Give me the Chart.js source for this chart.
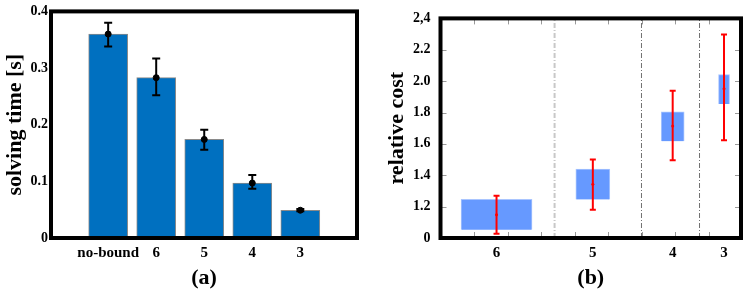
<!DOCTYPE html>
<html>
<head>
<meta charset="utf-8">
<script src="https://cdn.jsdelivr.net/npm/chart.js@4.4.0/dist/chart.umd.min.js"></script>
<style>
  html, body { margin: 0; padding: 0; background: #fff; }
  #wrap { position: relative; width: 747px; height: 292px; }
  canvas { position: absolute; top: 0; }
  #chartA { left: 0; }
  #chartB { left: 380px; }
</style>
</head>
<body>
<div id="wrap">
  <canvas id="chartA" width="380" height="292"></canvas>
  <canvas id="chartB" width="367" height="292"></canvas>
</div>
<script>
// Panel (a): solving time for each bound
const boundsA = ['no-bound', '6', '5', '4', '3'];
const timeMean = [0.360, 0.283, 0.174, 0.097, 0.049];
const timeLow = [0.338, 0.252, 0.156, 0.087, 0.047];
const timeHigh = [0.380, 0.317, 0.191, 0.111, 0.051];
const timeTicks = [0, 0.1, 0.2, 0.3, 0.4];

// Panel (b): relative cost for each bound
const boundsB = ['6', '5', '4', '3'];
const boundX = [1.67, 4.54, 6.92, 8.45];
const boxLow = [1.052, 1.246, 1.617, 1.854];
const boxHigh = [1.246, 1.440, 1.805, 2.042];
const costMean = [1.149, 1.343, 1.714, 1.951];
const costLow = [1.027, 1.180, 1.495, 1.623];
const costHigh = [1.270, 1.500, 1.939, 2.297];
const costTicks = [1.0, 1.2, 1.4, 1.6, 1.8, 2.0, 2.2, 2.4];
const costTickLabels = ['0', '1.2', '1.4', '1.6', '1.8', '2.0', '2.2', '2,4'];
const separatorX = [3.40, 5.99, 7.72];
const minorX = [1, 2, 3, 4, 5, 6, 7, 8];

Chart.defaults.font.family = "'Liberation Serif', 'Times New Roman', serif";
Chart.defaults.font.weight = 'bold';
Chart.defaults.color = '#000';

// error bar segments: low, high, then a gap
function errorSegments(xs, lo, hi) {
  const pts = [];
  xs.forEach((x, i) => {
    pts.push({ x: x, y: lo[i] }, { x: x, y: hi[i] }, { x: x, y: null });
  });
  return pts;
}

// thick black box round the plot area
const frame = {
  id: 'frame',
  afterDatasetsDraw(chart) {
    const { ctx, chartArea: a } = chart;
    ctx.save();
    ctx.strokeStyle = '#000';
    ctx.lineWidth = 4;
    ctx.strokeRect(a.left, a.top, a.right - a.left, a.bottom - a.top);
    ctx.restore();
  }
};

// small inward tick marks of panel (b)
const innerTicks = {
  id: 'innerTicks',
  afterDatasetsDraw(chart) {
    const { ctx, chartArea: a, scales } = chart;
    ctx.save();
    ctx.strokeStyle = '#999';
    ctx.lineWidth = 1;
    ctx.beginPath();
    minorX.forEach(v => {
      const px = Math.round(scales.x.getPixelForValue(v)) + 0.5;
      ctx.moveTo(px, a.top); ctx.lineTo(px, a.top + 6);
      ctx.moveTo(px, a.bottom); ctx.lineTo(px, a.bottom - 6);
    });
    costTicks.slice(1, -1).forEach(v => {
      const py = Math.round(scales.y.getPixelForValue(v)) + 0.5;
      ctx.moveTo(a.left, py); ctx.lineTo(a.left + 6, py);
      ctx.moveTo(a.right, py); ctx.lineTo(a.right - 6, py);
    });
    ctx.stroke();
    ctx.restore();
  }
};

const idxA = boundsA.map((_, i) => i);

new Chart(document.getElementById('chartA'), {
  type: 'bar',
  data: {
    datasets: [
      {
        type: 'line',
        data: errorSegments(idxA, timeLow, timeHigh),
        borderColor: '#000',
        borderWidth: 2,
        pointStyle: 'line',
        pointRadius: 4,
        pointBorderWidth: 2,
        pointBorderColor: '#000',
        spanGaps: false,
        order: 1
      },
      {
        type: 'line',
        data: idxA.map(i => ({ x: i, y: timeMean[i] })),
        showLine: false,
        pointStyle: 'circle',
        pointRadius: 3,
        pointBackgroundColor: '#000',
        pointBorderColor: '#000',
        order: 0
      },
      {
        data: idxA.map(i => ({ x: i, y: timeMean[i] })),
        backgroundColor: '#0070c0',
        borderColor: '#8a8a8a',
        borderWidth: 1,
        barThickness: 39,
        order: 2
      }
    ]
  },
  options: {
    responsive: false,
    animation: false,
    devicePixelRatio: 1,
    events: [],
    layout: { padding: { top: 8, right: 23, left: 0, bottom: 0 } },
    plugins: { legend: { display: false }, tooltip: { enabled: false } },
    scales: {
      x: {
        type: 'linear',
        min: -1.19,
        max: 5.18,
        offset: false,
        grid: { display: false, drawTicks: false },
        border: { display: false },
        afterBuildTicks: s => { s.ticks = idxA.map(i => ({ value: i })); },
        ticks: {
          autoSkip: false, maxRotation: 0, padding: 6,
          font: { size: 15 },
          callback: (v, i) => boundsA[i]
        },
        title: { display: true, text: '(a)', font: { size: 22 }, padding: { top: 0, bottom: 0 } },
        afterFit: s => { s.height = 54; }
      },
      y: {
        min: 0,
        max: 0.4,
        grid: { display: false, drawTicks: false },
        border: { display: false },
        afterBuildTicks: s => { s.ticks = timeTicks.map(v => ({ value: v })); },
        ticks: {
          padding: 3,
          font: { size: 14 },
          callback: v => (v === 0 ? '0' : v.toFixed(1))
        },
        title: { display: true, text: 'solving time [s]', font: { size: 22 }, padding: { top: 2, bottom: 0 } },
        afterFit: s => { s.width = 51; }
      }
    }
  },
  plugins: [frame]
});

// panel (b) datasets
const boxWidths = [71, 34, 23, 11];
const sepColors = ['#c8c8c8', '#707070', '#707070'];
const sepWidths = [2, 1, 1];

const datasetsB = [
  {
    type: 'line',
    data: errorSegments(boundX, costLow, costHigh),
    borderColor: '#ff0000',
    borderWidth: 2,
    pointStyle: 'line',
    pointRadius: 3,
    pointBorderWidth: 2,
    pointBorderColor: '#ff0000',
    spanGaps: false,
    order: 1
  },
  {
    type: 'line',
    data: boundX.map((x, i) => ({ x: x, y: costMean[i] })),
    showLine: false,
    pointStyle: 'circle',
    pointRadius: 1.5,
    pointBackgroundColor: '#ff0000',
    pointBorderColor: '#ff0000',
    pointBorderWidth: 0,
    order: 0
  }
];

separatorX.forEach((x, i) => {
  datasetsB.push({
    type: 'line',
    data: [{ x: x, y: costTicks[0] }, { x: x, y: costTicks[costTicks.length - 1] }],
    borderColor: sepColors[i],
    borderWidth: sepWidths[i],
    borderDash: [5, 2, 1, 2],
    pointRadius: 0,
    order: 4
  });
});

boundX.forEach((x, i) => {
  datasetsB.push({
    data: [{ x: x, y: [boxLow[i], boxHigh[i]] }],
    backgroundColor: '#6699ff',
    borderColor: '#a9c5ff',
    borderWidth: 1,
    barThickness: boxWidths[i],
    grouped: false,
    order: 2
  });
});

new Chart(document.getElementById('chartB'), {
  type: 'bar',
  data: { datasets: datasetsB },
  options: {
    responsive: false,
    animation: false,
    devicePixelRatio: 1,
    events: [],
    layout: { padding: { top: 8, right: 2, left: 0, bottom: 0 } },
    plugins: { legend: { display: false }, tooltip: { enabled: false } },
    scales: {
      x: {
        type: 'linear',
        min: 0,
        max: 8.956,
        offset: false,
        grid: { display: false, drawTicks: false },
        border: { display: false },
        afterBuildTicks: s => { s.ticks = boundX.map(v => ({ value: v })); },
        ticks: {
          autoSkip: false, maxRotation: 0, padding: 6,
          font: { size: 15 },
          callback: (v, i) => boundsB[i]
        },
        title: { display: true, text: '(b)', font: { size: 22 }, padding: { top: 0, bottom: 0 } },
        afterFit: s => { s.height = 54; }
      },
      y: {
        min: 1.0,
        max: 2.4,
        grid: { display: false, drawTicks: false },
        border: { display: false },
        afterBuildTicks: s => { s.ticks = costTicks.map(v => ({ value: v })); },
        ticks: {
          padding: 10,
          font: { size: 14 },
          callback: (v, i) => costTickLabels[i]
        },
        title: { display: true, text: 'relative cost', font: { size: 22 } },
        afterFit: s => { s.width = 60.5; }
      }
    }
  },
  plugins: [innerTicks, frame]
});
</script>
</body>
</html>
